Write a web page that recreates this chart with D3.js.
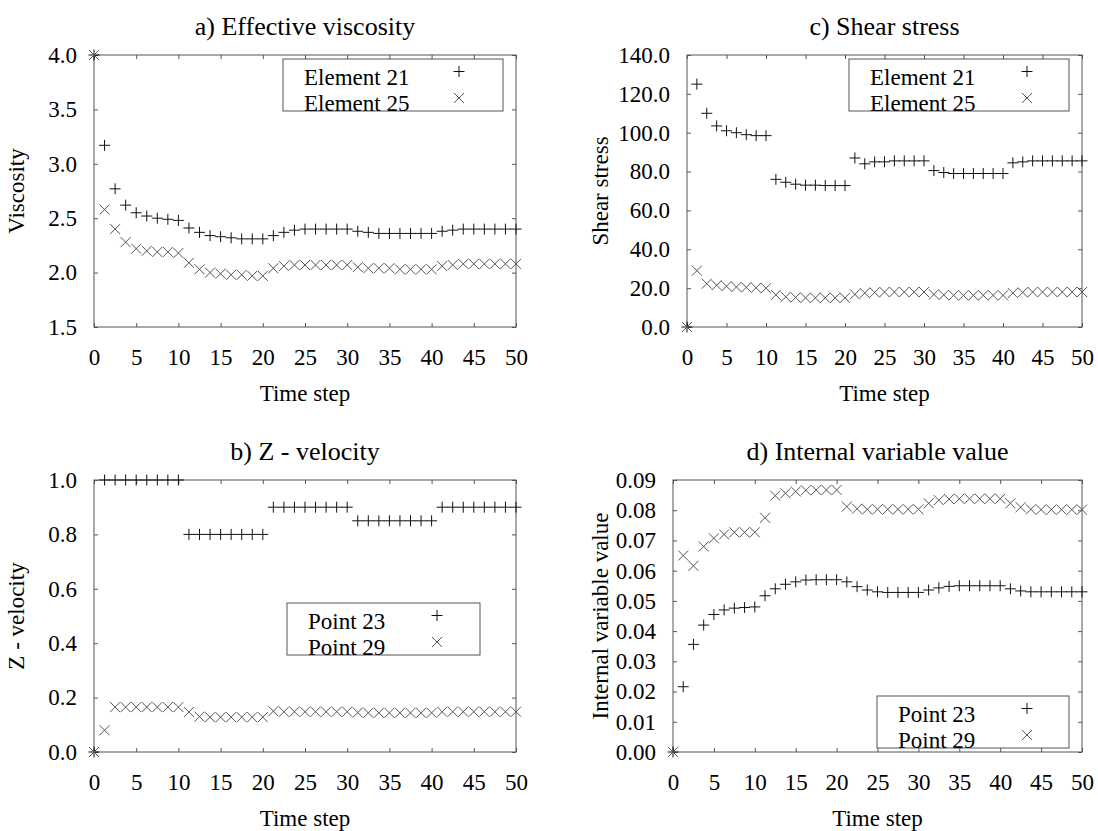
<!DOCTYPE html>
<html>
<head>
<meta charset="utf-8">
<script src="https://cdn.jsdelivr.net/npm/d3@7"></script>
<style>
  body { margin: 0; background: #fff; }
  svg text { font-family: "Liberation Serif", "Times New Roman", serif; fill: #000; }
</style>
</head>
<body>
<svg id="chart" width="1098" height="831"></svg>
<script>
// time steps where the solver wrote output (8 outputs per 10 steps)
const timeSteps = [0, 1.25, 2.5, 3.75, 5, 6.25, 7.5, 8.75, 10, 11.25, 12.5, 13.75, 15, 16.25, 17.5, 18.75, 20,
  21.25, 22.5, 23.75, 25, 26.25, 27.5, 28.75, 30, 31.25, 32.5, 33.75, 35, 36.25, 37.5, 38.75, 40,
  41.25, 42.5, 43.75, 45, 46.25, 47.5, 48.75, 50];
const xTicks = [0, 5, 10, 15, 20, 25, 30, 35, 40, 45, 50];

// a) effective viscosity
const viscElem21 = [4.0, 3.17, 2.77, 2.62, 2.55, 2.52, 2.50, 2.49, 2.48,
  2.41, 2.37, 2.34, 2.33, 2.32, 2.31, 2.31, 2.31,
  2.34, 2.37, 2.39, 2.40, 2.40, 2.40, 2.40, 2.40,
  2.38, 2.37, 2.36, 2.36, 2.36, 2.36, 2.36, 2.36,
  2.38, 2.39, 2.40, 2.40, 2.40, 2.40, 2.40, 2.40];
const viscElem25 = [4.0, 2.58, 2.40, 2.28, 2.22, 2.20, 2.19, 2.19, 2.18,
  2.09, 2.03, 2.00, 1.99, 1.98, 1.98, 1.97, 1.97,
  2.04, 2.06, 2.07, 2.07, 2.07, 2.07, 2.07, 2.07,
  2.05, 2.04, 2.04, 2.04, 2.03, 2.03, 2.03, 2.03,
  2.06, 2.07, 2.08, 2.08, 2.08, 2.08, 2.08, 2.08];
const viscTicks = [1.5, 2.0, 2.5, 3.0, 3.5, 4.0];

// c) shear stress
const shearElem21 = [0, 125, 110, 103.5, 101, 100, 99, 98.5, 98.5,
  76, 74.5, 73.5, 73, 73, 72.8, 72.8, 72.8,
  87, 84, 85, 85, 85.5, 85.5, 85.5, 85.5,
  80.5, 79.5, 79, 79, 79, 79, 79, 79,
  84.5, 85, 85.5, 85.5, 85.5, 85.5, 85.5, 85.5];
const shearElem25 = [0, 29, 22.3, 21.5, 21, 20.6, 20.4, 20.2, 20.0,
  16.5, 15.5, 15.2, 15, 15, 15, 15, 15,
  16.8, 17.5, 17.8, 18, 18, 18, 18, 18,
  16.8, 16.5, 16.3, 16.3, 16.3, 16.3, 16.3, 16.3,
  17.5, 17.8, 18, 18, 18, 18, 18, 18];
const shearTicks = [0, 20, 40, 60, 80, 100, 120, 140];

// b) z - velocity
const zvelPoint23 = [0, 1, 1, 1, 1, 1, 1, 1, 1,
  0.8, 0.8, 0.8, 0.8, 0.8, 0.8, 0.8, 0.8,
  0.9, 0.9, 0.9, 0.9, 0.9, 0.9, 0.9, 0.9,
  0.85, 0.85, 0.85, 0.85, 0.85, 0.85, 0.85, 0.85,
  0.9, 0.9, 0.9, 0.9, 0.9, 0.9, 0.9, 0.9];
const zvelPoint29 = [0, 0.08, 0.165, 0.165, 0.165, 0.165, 0.165, 0.165, 0.165,
  0.147, 0.13, 0.128, 0.128, 0.128, 0.128, 0.128, 0.128,
  0.15, 0.148, 0.148, 0.148, 0.148, 0.148, 0.148, 0.148,
  0.145, 0.144, 0.144, 0.144, 0.144, 0.144, 0.144, 0.144,
  0.148, 0.148, 0.148, 0.148, 0.148, 0.148, 0.148, 0.148];
const zvelTicks = [0, 0.2, 0.4, 0.6, 0.8, 1.0];

// d) internal variable value
const ivarPoint23 = [0, 0.0216, 0.0356, 0.042, 0.0455, 0.047, 0.0476, 0.0478, 0.048,
  0.0517, 0.054, 0.0555, 0.0563, 0.0569, 0.057, 0.057, 0.057,
  0.0563, 0.0547, 0.0536, 0.053, 0.0528, 0.0528, 0.0528, 0.0528,
  0.0536, 0.0543, 0.0548, 0.055, 0.055, 0.055, 0.055, 0.055,
  0.054, 0.0533, 0.053, 0.053, 0.053, 0.053, 0.053, 0.053];
const ivarPoint29 = [0, 0.065, 0.0616, 0.068, 0.0707, 0.072, 0.0727, 0.0727, 0.0727,
  0.0775, 0.0848, 0.0856, 0.0862, 0.0866, 0.0867, 0.0867, 0.0867,
  0.0812, 0.0805, 0.0803, 0.0803, 0.0803, 0.0803, 0.0803, 0.0803,
  0.0823, 0.0833, 0.0837, 0.0838, 0.0838, 0.0838, 0.0838, 0.0838,
  0.0823, 0.081, 0.0803, 0.0802, 0.0802, 0.0802, 0.0802, 0.0802];
const ivarTicks = [0, 0.01, 0.02, 0.03, 0.04, 0.05, 0.06, 0.07, 0.08, 0.09];

const svg = d3.select("#chart");
const fontSize = 23;
const frameColor = "#555";

const plusPath = "M-5.5,0H5.5M0,-5.5V5.5";
const crossPath = "M-5,-5L5,5M-5,5L5,-5";

function drawPanel(o) {
  const x = d3.scaleLinear().domain([0, 50]).range([o.left, o.right]);
  const y = d3.scaleLinear().domain([o.ticks[0], o.ticks[o.ticks.length - 1]]).range([o.bottom, o.top]);
  const g = svg.append("g");

  const styleAxis = a => a
    .attr("font-family", null)
    .attr("font-size", fontSize)
    .call(s => s.select(".domain").remove())
    .call(s => s.selectAll(".tick line").attr("stroke", frameColor));

  // ticks point inward on all four sides
  g.append("g").attr("transform", `translate(0,${o.bottom})`)
    .call(d3.axisBottom(x).tickValues(xTicks).tickSizeInner(-4).tickSizeOuter(0).tickPadding(22).tickFormat(d3.format("d")))
    .call(styleAxis);
  g.append("g").attr("transform", `translate(0,${o.top})`)
    .call(d3.axisTop(x).tickValues(xTicks).tickSizeInner(-4).tickSizeOuter(0).tickFormat(""))
    .call(styleAxis);
  g.append("g").attr("transform", `translate(${o.left},0)`)
    .call(d3.axisLeft(y).tickValues(o.ticks).tickSizeInner(-4).tickSizeOuter(0).tickPadding(17).tickFormat(d3.format(o.fmt)))
    .call(styleAxis);
  g.append("g").attr("transform", `translate(${o.right},0)`)
    .call(d3.axisRight(y).tickValues(o.ticks).tickSizeInner(-4).tickSizeOuter(0).tickFormat(""))
    .call(styleAxis);

  g.append("rect")
    .attr("x", o.left).attr("y", o.top)
    .attr("width", o.right - o.left).attr("height", o.bottom - o.top)
    .attr("fill", "none").attr("stroke", frameColor);

  // titles
  g.append("text")
    .attr("x", (o.left + o.right) / 2).attr("y", o.top - 20)
    .attr("text-anchor", "middle").attr("font-size", 26)
    .text(o.title);
  g.append("text")
    .attr("x", (o.left + o.right) / 2).attr("y", o.bottom + 74)
    .attr("text-anchor", "middle").attr("font-size", fontSize)
    .text("Time step");
  g.append("text")
    .attr("transform", `translate(${o.ylabelX},${(o.top + o.bottom) / 2}) rotate(-90)`)
    .attr("text-anchor", "middle").attr("font-size", fontSize)
    .text(o.ylabel);

  // legend box
  const lg = g.append("g").attr("transform", `translate(${o.legend.x},${o.legend.y})`);
  lg.append("rect")
    .attr("width", o.legend.w).attr("height", 52)
    .attr("fill", "white").attr("stroke", frameColor);

  // the two series
  const series = [
    { values: o.s1, shape: plusPath, color: "#111", name: o.names[0] },
    { values: o.s2, shape: crossPath, color: "#555", name: o.names[1] }
  ];
  series.forEach((s, i) => {
    g.append("g")
      .selectAll("path")
      .data(timeSteps.map((t, k) => [t, s.values[k]]))
      .join("path")
      .attr("transform", d => `translate(${x(d[0])},${y(d[1])})`)
      .attr("d", s.shape)
      .attr("fill", "none")
      .attr("stroke", s.color)
      .attr("stroke-width", 1);

    lg.append("text")
      .attr("x", 21).attr("y", 26 + i * 25.5)
      .attr("font-size", fontSize)
      .text(s.name);
    lg.append("path")
      .attr("transform", `translate(${o.legend.mx},${12.5 + i * 26.5})`)
      .attr("d", s.shape)
      .attr("fill", "none")
      .attr("stroke", s.color);
  });
}

drawPanel({
  title: "a) Effective viscosity", ylabel: "Viscosity", ylabelX: 24,
  left: 94, right: 516, top: 55, bottom: 327,
  ticks: viscTicks, fmt: ".1f",
  s1: viscElem21, s2: viscElem25, names: ["Element 21", "Element 25"],
  legend: { x: 283, y: 59, w: 220, mx: 176 }
});
drawPanel({
  title: "c) Shear stress", ylabel: "Shear stress", ylabelX: 608,
  left: 687, right: 1082, top: 55, bottom: 327,
  ticks: shearTicks, fmt: ".1f",
  s1: shearElem21, s2: shearElem25, names: ["Element 21", "Element 25"],
  legend: { x: 849, y: 59, w: 220, mx: 178 }
});
drawPanel({
  title: "b) Z - velocity", ylabel: "Z - velocity", ylabelX: 24,
  left: 94, right: 516, top: 480, bottom: 752,
  ticks: zvelTicks, fmt: ".1f",
  s1: zvelPoint23, s2: zvelPoint29, names: ["Point 23", "Point 29"],
  legend: { x: 287, y: 603, w: 193, mx: 150 }
});
drawPanel({
  title: "d) Internal variable value", ylabel: "Internal variable value", ylabelX: 608,
  left: 673, right: 1082, top: 480, bottom: 752,
  ticks: ivarTicks, fmt: ".2f",
  s1: ivarPoint23, s2: ivarPoint29, names: ["Point 23", "Point 29"],
  legend: { x: 877, y: 696, w: 192, mx: 150 }
});
</script>
</body>
</html>
